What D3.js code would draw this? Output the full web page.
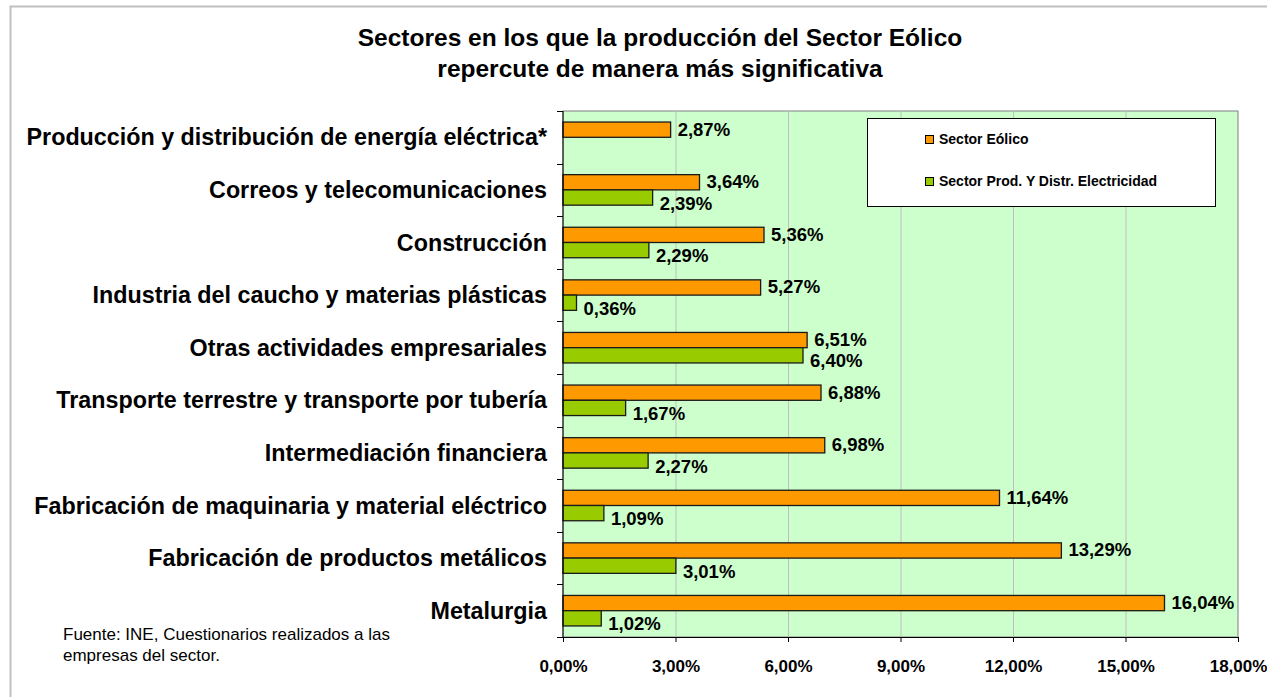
<!DOCTYPE html>
<html>
<head>
<meta charset="utf-8">
<script src="https://cdn.jsdelivr.net/npm/d3@7"></script>
<style>
  body { margin: 0; background: #fff; }
  text { font-family: Arial, "Liberation Sans", sans-serif; }
</style>
</head>
<body>
<svg id="chart" width="1267" height="697"></svg>
<script>
// data
var categories = [
  "Producción y distribución de energía eléctrica*",
  "Correos y telecomunicaciones",
  "Construcción",
  "Industria del caucho y materias plásticas",
  "Otras actividades empresariales",
  "Transporte terrestre y transporte por tubería",
  "Intermediación financiera",
  "Fabricación de maquinaria y material eléctrico",
  "Fabricación de productos metálicos",
  "Metalurgia"
];
var seriesNames = ["Sector Eólico", "Sector Prod. Y Distr. Electricidad"];
var eolico = [2.87, 3.64, 5.36, 5.27, 6.51, 6.88, 6.98, 11.64, 13.29, 16.04];
var electricidad = [null, 2.39, 2.29, 0.36, 6.40, 1.67, 2.27, 1.09, 3.01, 1.02];
var xTicks = [0, 3, 6, 9, 12, 15, 18];
var colors = ["#FF9900", "#99CC00"];

var svg = d3.select("#chart");
var plot = { left: 563, right: 1238, top: 111, bottom: 637 };

var fmt = function(v) { return v.toFixed(2).replace(".", ",") + "%"; };

// outer frame (only top and left visible in the crop)
svg.append("path")
  .attr("d", "M10.5,697 V6.5 H1267")
  .attr("fill", "none")
  .attr("stroke", "#c0c0c0")
  .attr("stroke-width", 2);

// title
var title = svg.append("text")
  .attr("text-anchor", "middle")
  .attr("font-size", 24.5)
  .attr("font-weight", "bold");
title.append("tspan").attr("x", 660).attr("y", 46).text("Sectores en los que la producción del Sector Eólico");
title.append("tspan").attr("x", 660).attr("y", 77).text("repercute de manera más significativa");

var x = d3.scaleLinear().domain([0, 18]).range([plot.left, plot.right]);
var y = d3.scaleBand().domain(categories).range([plot.top, plot.bottom])
  .paddingInner(0.42).paddingOuter(0.21);
var ySub = d3.scaleBand().domain([0, 1]).range([0, y.bandwidth()]);

// plot background
svg.append("rect")
  .attr("x", plot.left).attr("y", plot.top)
  .attr("width", plot.right - plot.left).attr("height", plot.bottom - plot.top)
  .attr("fill", "#CCFFCC")
  .attr("stroke", "#808080")
  .attr("stroke-width", 1);

// grid lines
svg.append("g").selectAll("line")
  .data(xTicks.slice(1, -1))
  .join("line")
  .attr("x1", function(d) { return x(d) + 0.5; })
  .attr("x2", function(d) { return x(d) + 0.5; })
  .attr("y1", plot.top).attr("y2", plot.bottom)
  .attr("stroke", "#bfbfbf");

// bars
var series = [eolico, electricidad];
series.forEach(function(vals, si) {
  var g = svg.append("g");
  var rows = categories.map(function(c, i) { return { cat: c, v: vals[i] }; })
    .filter(function(d) { return d.v !== null; });

  g.selectAll("rect")
    .data(rows)
    .join("rect")
    .attr("x", x(0))
    .attr("y", function(d) { return y(d.cat) + ySub(si); })
    .attr("width", function(d) { return x(d.v) - x(0); })
    .attr("height", ySub.bandwidth())
    .attr("fill", colors[si])
    .attr("stroke", "#1a1a1a")
    .attr("stroke-width", 1.3);

  // value labels, green ones sit a little lower like in Excel
  g.selectAll("text")
    .data(rows)
    .join("text")
    .attr("x", function(d) { return x(d.v) + 7; })
    .attr("y", function(d) { return y(d.cat) + ySub(si) + ySub.bandwidth() / 2 + (si === 0 ? 6 : 12); })
    .attr("font-size", 18.5)
    .attr("font-weight", "bold")
    .text(function(d) { return fmt(d.v); });
});

// axes
var xAxis = d3.axisBottom(x).tickValues(xTicks).tickFormat(function(d) { return d.toFixed(2).replace(".", ",") + "%"; })
  .tickSize(5).tickPadding(18);
var gx = svg.append("g").attr("transform", "translate(0," + plot.bottom + ")").call(xAxis);
gx.select(".domain").attr("stroke", "#000");
gx.selectAll("text").attr("font-size", 17).attr("font-weight", "bold").attr("fill", "#000");

var yTickPos = d3.range(categories.length + 1).map(function(i) { return plot.top + i * y.step(); });
var gy = svg.append("g");
gy.append("line").attr("x1", plot.left).attr("x2", plot.left)
  .attr("y1", plot.top).attr("y2", plot.bottom).attr("stroke", "#000");
gy.selectAll("line.tk").data(yTickPos).join("line").attr("class", "tk")
  .attr("x1", plot.left - 6).attr("x2", plot.left)
  .attr("y1", function(d) { return Math.round(d) + 0.5; })
  .attr("y2", function(d) { return Math.round(d) + 0.5; })
  .attr("stroke", "#000");
gy.selectAll("text").data(categories).join("text")
  .attr("x", plot.left - 16)
  .attr("y", function(d) { return y(d) + y.bandwidth() / 2 + 8; })
  .attr("text-anchor", "end")
  .attr("font-size", 23.3)
  .attr("font-weight", "bold")
  .text(function(d) { return d; });

// legend
var lg = svg.append("g");
lg.append("rect").attr("x", 867.5).attr("y", 118.5).attr("width", 348).attr("height", 88)
  .attr("fill", "#fff").attr("stroke", "#000");
seriesNames.forEach(function(name, i) {
  var ly = 144 + i * 42;
  lg.append("rect").attr("x", 925.5).attr("y", ly - 8.5).attr("width", 8).attr("height", 8)
    .attr("fill", colors[i]).attr("stroke", "#000");
  lg.append("text").attr("x", 939).attr("y", ly).attr("font-size", 14).attr("font-weight", "bold")
    .text(name);
});

// source note
var note = svg.append("text").attr("font-size", 17).attr("fill", "#000");
note.append("tspan").attr("x", 63).attr("y", 640).text("Fuente: INE, Cuestionarios realizados a las");
note.append("tspan").attr("x", 63).attr("y", 661).text("empresas del sector.");
</script>
</body>
</html>
